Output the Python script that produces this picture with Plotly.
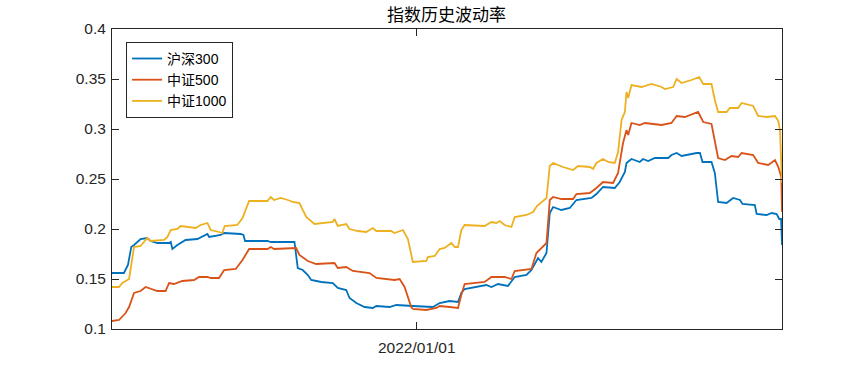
import pandas as pd
import plotly.graph_objects as go

START = pd.Timestamp("2021-07-19")
END = pd.Timestamp("2022-07-19")

series_names = ["沪深300", "中证500", "中证1000"]
x_tick_values = ["2022-01-01"]
x_tick_labels = ["2022/01/01"]

# day offsets from START and values
hs300_day = [0, 6.5, 8.7, 10.5, 12.0, 15.6, 19.2, 21.0, 24.7, 31.1, 32.0, 32.9, 35.6, 40.1, 46.5, 52.0,
             52.9, 59.2, 61.1, 70.1, 71.6, 72.5, 84.7, 86.5, 99.4, 101.2, 103.9, 106.7, 108.5, 114.0,
             120.3, 123.0, 127.6, 129.4, 133.1, 137.6, 142.1, 144.0, 151.2, 154.9, 163.9, 174.8, 178.5,
             183.9, 188.5, 190.3, 192.1, 203.9, 206.7, 210.3, 215.7, 219.4, 225.8, 228.5, 232.1, 233.9,
             236.7, 238.5, 240.3, 244.8, 249.4, 253.0, 261.2, 263.9, 267.5, 273.9, 276.6, 279.4, 280.3,
             283.0, 287.5, 289.3, 292.1, 295.7, 303.0, 304.8, 307.6, 310.3, 318.5, 320.3, 321.7, 326.6,
             328.4, 330.2, 334.8, 338.4, 342.1, 343.5, 350.2, 351.2, 356.6, 359.4, 362.1, 363.5, 364.5, 365.0]
hs300_val = [0.156, 0.156, 0.164, 0.182, 0.184, 0.190, 0.191, 0.188, 0.186, 0.186, 0.187, 0.180, 0.184, 0.189,
             0.190, 0.195, 0.192, 0.194, 0.196, 0.195, 0.194, 0.188, 0.188, 0.187, 0.187, 0.161, 0.159,
             0.154, 0.149, 0.147, 0.146, 0.141, 0.139, 0.131, 0.126, 0.122, 0.121, 0.123, 0.122, 0.124,
             0.123, 0.122, 0.126, 0.128, 0.127, 0.136, 0.140, 0.144, 0.142, 0.145, 0.143, 0.152, 0.154,
             0.159, 0.171, 0.167, 0.176, 0.216, 0.222, 0.219, 0.221, 0.229, 0.231, 0.235, 0.242, 0.241,
             0.247, 0.257, 0.266, 0.270, 0.267, 0.270, 0.268, 0.271, 0.271, 0.274, 0.276, 0.273, 0.276,
             0.276, 0.267, 0.267, 0.256, 0.227, 0.226, 0.231, 0.229, 0.225, 0.224, 0.215, 0.214, 0.216,
             0.215, 0.210, 0.210, 0.184]

zz500_day = [0, 3.8, 7.4, 9.3, 12.0, 15.6, 18.3, 21.0, 24.7, 29.2, 31.1, 33.8, 38.3, 44.7, 47.4, 52.0,
             53.8, 58.3, 61.1, 67.4, 71.1, 74.7, 84.7, 86.5, 88.3, 100.3, 102.1, 106.7, 111.2, 121.2,
             123.0, 127.6, 131.2, 140.3, 144.0, 153.9, 156.7, 159.4, 163.0, 163.9, 171.2, 176.7, 178.5,
             184.0, 188.5, 190.3, 192.1, 203.0, 206.7, 213.9, 217.6, 219.4, 228.5, 231.2, 236.7, 238.5,
             240.3, 244.8, 251.2, 253.0, 260.3, 263.9, 267.5, 273.0, 275.7, 278.4, 280.3, 281.2, 283.0,
             287.5, 290.3, 299.4, 304.8, 307.6, 312.1, 319.3, 322.1, 326.6, 328.4, 330.2, 333.9, 337.5,
             341.1, 343.0, 349.3, 352.0, 357.5, 361.2, 363.0, 364.2, 364.6, 365.0]
zz500_val = [0.108, 0.109, 0.116, 0.122, 0.136, 0.138, 0.142, 0.140, 0.138, 0.138, 0.146, 0.145, 0.148,
             0.149, 0.152, 0.152, 0.151, 0.151, 0.159, 0.160, 0.169, 0.180, 0.180, 0.182, 0.180, 0.181,
             0.174, 0.168, 0.165, 0.166, 0.161, 0.162, 0.158, 0.156, 0.151, 0.149, 0.150, 0.142, 0.122,
             0.120, 0.119, 0.121, 0.123, 0.122, 0.121, 0.134, 0.145, 0.147, 0.152, 0.152, 0.150, 0.158,
             0.160, 0.176, 0.186, 0.229, 0.232, 0.230, 0.230, 0.235, 0.236, 0.241, 0.247, 0.246, 0.256,
             0.286, 0.299, 0.294, 0.306, 0.304, 0.306, 0.304, 0.306, 0.313, 0.312, 0.317, 0.307, 0.305,
             0.289, 0.271, 0.269, 0.273, 0.272, 0.276, 0.274, 0.266, 0.264, 0.269, 0.262, 0.254, 0.252,
             0.217]

zz1000_day = [0, 3.8, 5.6, 9.3, 12.0, 15.6, 17.4, 19.2, 21.0, 28.4, 30.2, 32.0, 35.6, 37.4, 45.6, 48.3,
              52.0, 53.8, 58.3, 60.1, 61.4, 68.3, 71.1, 74.7, 84.7, 86.5, 88.3, 91.9, 95.8, 98.5, 102.1,
              105.8, 110.3, 114.0, 120.3, 121.2, 123.0, 127.6, 129.4, 133.9, 138.5, 142.1, 144.0, 152.1,
              153.9, 158.5, 161.2, 163.9, 171.2, 172.1, 175.8, 178.5, 181.2, 184.9, 186.7, 188.5, 190.3,
              192.1, 203.0, 206.7, 209.4, 211.2, 213.9, 217.6, 219.4, 225.8, 229.4, 231.5, 236.7, 238.5,
              240.3, 245.7, 251.2, 253.9, 260.3, 262.1, 263.9, 267.5, 270.3, 273.9, 275.7, 277.6, 279.4,
              280.3, 281.2, 283.0, 288.5, 293.9, 299.4, 301.2, 305.7, 307.6, 310.3, 315.7, 319.9, 322.1,
              326.6, 328.4, 330.2, 334.8, 336.6, 341.1, 343.0, 349.3, 352.0, 356.6, 361.2, 363.0, 363.9,
              365.0]
zz1000_val = [0.142, 0.142, 0.146, 0.150, 0.182, 0.183, 0.187, 0.191, 0.188, 0.189, 0.192, 0.199, 0.200,
              0.203, 0.201, 0.204, 0.206, 0.199, 0.197, 0.196, 0.203, 0.204, 0.211, 0.228, 0.228, 0.232,
              0.229, 0.231, 0.229, 0.227, 0.226, 0.212, 0.205, 0.206, 0.207, 0.210, 0.203, 0.205, 0.200,
              0.198, 0.197, 0.201, 0.198, 0.198, 0.196, 0.199, 0.190, 0.167, 0.168, 0.172, 0.173, 0.180,
              0.181, 0.186, 0.182, 0.182, 0.199, 0.204, 0.203, 0.207, 0.206, 0.208, 0.204, 0.202, 0.212,
              0.214, 0.217, 0.223, 0.231, 0.263, 0.266, 0.262, 0.259, 0.263, 0.262, 0.260, 0.266, 0.270,
              0.267, 0.266, 0.277, 0.309, 0.317, 0.337, 0.331, 0.344, 0.342, 0.345, 0.342, 0.340, 0.342,
              0.350, 0.346, 0.349, 0.352, 0.345, 0.345, 0.329, 0.317, 0.317, 0.321, 0.321, 0.326, 0.323,
              0.313, 0.312, 0.313, 0.308, 0.299, 0.246]

colors = ["#0072BD", "#D95319", "#EDB120"]


def to_dates(days):
    return [START + pd.Timedelta(days=d) for d in days]


fig = go.Figure()
for name, days, vals, c in zip(series_names,
                               [hs300_day, zz500_day, zz1000_day],
                               [hs300_val, zz500_val, zz1000_val],
                               colors):
    fig.add_trace(go.Scatter(x=to_dates(days), y=vals, mode="lines", name=name,
                             line=dict(color=c, width=1.8)))

axis_common = dict(showline=True, linecolor="#262626", linewidth=1, mirror="allticks",
                   ticks="inside", ticklen=7, tickcolor="#262626", showgrid=False, zeroline=False,
                   tickfont=dict(family="Liberation Sans, Arial, sans-serif", size=15.5, color="#262626"))

fig.update_layout(
    width=865, height=371,
    margin=dict(l=112, r=83, t=29, b=42),
    paper_bgcolor="white", plot_bgcolor="white",
    title=dict(text="指数历史波动率", x=0.5162, xanchor="center",
               y=1 - 15 / 371, yanchor="middle",
               font=dict(family="Noto Sans CJK SC, sans-serif", size=17, color="#000000")),
    xaxis=dict(type="date", range=[START, END], tickvals=x_tick_values, ticktext=x_tick_labels,
               ticklabelstandoff=4, **axis_common),
    yaxis=dict(range=[0.1, 0.4], dtick=0.05, tick0=0.1, ticklabelstandoff=2, **axis_common),
    legend=dict(x=0.021, y=0.957, xanchor="left", yanchor="top", bgcolor="white",
                bordercolor="#262626", borderwidth=1,
                font=dict(family="Liberation Sans, Noto Sans CJK SC, sans-serif", size=14, color="#000000"),
                tracegroupgap=0, itemwidth=30),
    showlegend=True,
)

# remove the default page margin so the 865x371 figure fills the window exactly
fig.write_html("out.html", config={"displayModeBar": False},
               post_script="document.body.style.margin='0';document.body.style.overflow='hidden';")
